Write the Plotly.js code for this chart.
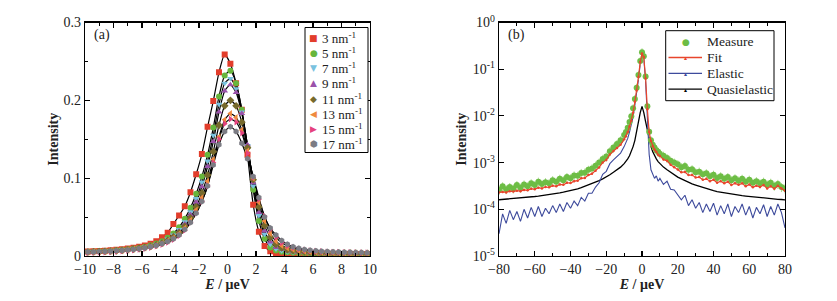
<!DOCTYPE html>
<html><head><meta charset="utf-8">
<script src="https://cdn.plot.ly/plotly-3.0.1.min.js"></script>
<style>html,body{margin:0;padding:0;background:#fff}#c{width:837px;height:301px}</style>
</head><body><div id="c"></div>
<script>
// ---------- panel (a) ----------
const energyA = [-9.8,-9.4,-9.0,-8.6,-8.2,-7.8,-7.4,-7.0,-6.6,-6.2,-5.8,-5.4,-5.0,-4.6,-4.2,-3.8,-3.4,-3.0,-2.6,-2.2,-1.8,-1.4,-1.0,-0.6,-0.2,0.2,0.6,1.0,1.4,1.8,2.2,2.6,3.0,3.4,3.8,4.2,4.6,5.0,5.4,5.8,6.2,6.6,7.0,7.4,7.8,8.2,8.6,9.0,9.4,9.8];
const q3  = [0.0058,0.0061,0.0065,0.0069,0.0074,0.008,0.0087,0.0095,0.0105,0.0118,0.0135,0.0158,0.019,0.024,0.030,0.041,0.052,0.064,0.082,0.105,0.131,0.166,0.199,0.236,0.259,0.247,0.222,0.188,0.13,0.066,0.031,0.013,0.006,0.004,0.0035,0.0032,0.003,0.003,0.0029,0.0029,0.0028,0.0028,0.0028,0.0027,0.0027,0.0027,0.0026,0.0026,0.0026,0.0025];
const q5  = [0.0055,0.0057,0.006,0.0064,0.0068,0.0073,0.0079,0.0086,0.0095,0.0106,0.012,0.0137,0.016,0.019,0.0235,0.029,0.037,0.048,0.062,0.08,0.102,0.13,0.165,0.205,0.232,0.238,0.222,0.188,0.14,0.085,0.045,0.022,0.011,0.007,0.0055,0.0047,0.0042,0.0039,0.0037,0.0035,0.0034,0.0033,0.0032,0.0031,0.0031,0.003,0.003,0.0029,0.0029,0.0029];
const q7  = [0.0053,0.0055,0.0058,0.0061,0.0065,0.007,0.0076,0.0083,0.0091,0.0101,0.0114,0.013,0.0151,0.0178,0.0218,0.027,0.034,0.044,0.057,0.074,0.095,0.122,0.155,0.195,0.222,0.228,0.215,0.185,0.142,0.09,0.052,0.028,0.015,0.009,0.0068,0.0056,0.0049,0.0044,0.0041,0.0038,0.0036,0.0035,0.0034,0.0033,0.0032,0.0032,0.0031,0.0031,0.003,0.003];
const q9  = [0.0052,0.0054,0.0057,0.006,0.0064,0.0069,0.0074,0.0081,0.0089,0.0099,0.0111,0.0126,0.0146,0.0172,0.021,0.026,0.032,0.041,0.053,0.069,0.089,0.115,0.147,0.185,0.212,0.22,0.21,0.183,0.143,0.094,0.056,0.032,0.018,0.011,0.0082,0.0065,0.0055,0.0049,0.0045,0.0042,0.0039,0.0037,0.0036,0.0035,0.0034,0.0033,0.0033,0.0032,0.0032,0.0031];
const q11 = [0.0051,0.0053,0.0056,0.0059,0.0063,0.0067,0.0072,0.0079,0.0087,0.0096,0.0108,0.0123,0.0142,0.0166,0.02,0.0245,0.03,0.038,0.049,0.063,0.081,0.104,0.134,0.168,0.193,0.2,0.193,0.172,0.139,0.098,0.063,0.039,0.024,0.015,0.0105,0.008,0.0066,0.0057,0.0051,0.0047,0.0044,0.0041,0.0039,0.0038,0.0037,0.0036,0.0035,0.0035,0.0034,0.0034];
const q13 = [0.005,0.0052,0.0055,0.0058,0.0062,0.0066,0.0071,0.0078,0.0086,0.0095,0.0106,0.012,0.0138,0.0161,0.0192,0.0233,0.0285,0.036,0.046,0.059,0.075,0.096,0.124,0.153,0.175,0.183,0.178,0.162,0.135,0.1,0.069,0.045,0.029,0.019,0.0135,0.0102,0.0083,0.007,0.0061,0.0055,0.005,0.0047,0.0044,0.0042,0.004,0.0039,0.0038,0.0037,0.0037,0.0036];
const q15 = [0.0045,0.0047,0.0049,0.0052,0.0055,0.0059,0.0064,0.007,0.0077,0.0086,0.0097,0.011,0.0127,0.0148,0.0175,0.021,0.026,0.033,0.043,0.055,0.07,0.09,0.12,0.15,0.17,0.176,0.172,0.158,0.132,0.101,0.073,0.051,0.034,0.024,0.017,0.013,0.0105,0.0088,0.0076,0.0068,0.0062,0.0057,0.0053,0.005,0.0048,0.0046,0.0044,0.0043,0.0042,0.0041];
const q17 = [0.005,0.0052,0.0055,0.0058,0.0062,0.0066,0.0071,0.0077,0.0084,0.0093,0.0104,0.0118,0.0135,0.0157,0.0185,0.022,0.027,0.034,0.043,0.055,0.07,0.09,0.117,0.143,0.16,0.166,0.16,0.145,0.125,0.102,0.075,0.05,0.036,0.027,0.02,0.015,0.012,0.0098,0.0084,0.0074,0.0067,0.0062,0.0058,0.0054,0.0051,0.0049,0.0047,0.0045,0.0044,0.0043];
const seriesA = [q3,q5,q7,q9,q11,q13,q15,q17];
const labelsA = ['3 nm<sup>-1</sup>','5 nm<sup>-1</sup>','7 nm<sup>-1</sup>','9 nm<sup>-1</sup>','11 nm<sup>-1</sup>','13 nm<sup>-1</sup>','15 nm<sup>-1</sup>','17 nm<sup>-1</sup>'];
const yTicksA = [0,0.1,0.2,0.3];
const yTickTextA = ['0','0.1','0.2','0.3'];

// ---------- panel (b) ----------
const energyB = [-80,-78,-76,-74,-72,-70,-68,-66,-64,-62,-60,-58,-56,-54,-52,-50,-48,-46,-44,-42,-40,-38,-36,-34,-32,-30,-28,-26,-24,-22,-20,-18,-16,-14,-12,-10,-9,-8,-7,-6,-5,-4,-3,-2,-1,0,1,2,3,4,5,6,7,8,9,10,12,14,16,18,20,22,24,26,28,30,32,34,36,38,40,42,44,46,48,50,52,54,56,58,60,62,64,66,68,70,72,74,76,78,80];
const measure = [2.6e-4,3.1e-4,2.7e-4,3.0e-4,2.8e-4,3.3e-4,2.9e-4,3.4e-4,3.1e-4,3.6e-4,
  3.3e-4,3.9e-4,3.5e-4,3.8e-4,3.6e-4,4.2e-4,3.9e-4,4.5e-4,4.2e-4,4.9e-4,
  4.6e-4,5.3e-4,5.2e-4,6.0e-4,6.1e-4,7.0e-4,7.5e-4,8.6e-4,1.0e-3,1.2e-3,
  1.35e-3,1.75e-3,2.1e-3,2.5e-3,3.0e-3,
  3.9e-3,4.5e-3,5.6e-3,7.4e-3,9.8e-3,0.0145,0.023,0.04,0.075,0.15,
  0.23,
  0.19,0.07,0.016,4.6e-3,3.0e-3,2.4e-3,2.1e-3,1.85e-3,1.7e-3,1.55e-3,
  1.4e-3,1.25e-3,1.1e-3,1.0e-3,9.2e-4,
  8.0e-4,8.5e-4,7.0e-4,7.2e-4,6.2e-4,6.4e-4,5.6e-4,5.9e-4,5.1e-4,5.5e-4,
  4.7e-4,5.1e-4,4.5e-4,4.9e-4,4.2e-4,4.6e-4,4.1e-4,4.5e-4,3.9e-4,4.3e-4,
  3.7e-4,4.0e-4,3.6e-4,3.9e-4,3.4e-4,3.7e-4,3.2e-4,3.5e-4,3.0e-4,2.8e-4];
const fit = [2.3e-4,2.35e-4,2.3e-4,2.45e-4,2.4e-4,2.5e-4,2.45e-4,2.6e-4,2.55e-4,2.75e-4,
  2.7e-4,2.9e-4,2.8e-4,3.0e-4,2.95e-4,3.2e-4,3.1e-4,3.4e-4,3.35e-4,3.7e-4,
  3.65e-4,4.0e-4,4.1e-4,4.6e-4,4.7e-4,5.4e-4,5.8e-4,6.7e-4,7.9e-4,1.0e-3,
  1.14e-3,1.5e-3,1.77e-3,2.05e-3,2.4e-3,
  3.15e-3,3.65e-3,4.5e-3,5.9e-3,7.9e-3,0.0117,0.02,0.035,0.068,0.142,
  0.216,
  0.182,0.063,0.0138,4.5e-3,2.9e-3,2.25e-3,1.9e-3,1.7e-3,1.47e-3,1.39e-3,
  1.16e-3,1.09e-3,9.0e-4,8.0e-4,7.1e-4,
  6.2e-4,6.3e-4,5.4e-4,5.4e-4,4.8e-4,4.9e-4,4.3e-4,4.5e-4,4.0e-4,4.3e-4,
  3.7e-4,4.0e-4,3.6e-4,3.9e-4,3.3e-4,3.6e-4,3.35e-4,3.6e-4,3.1e-4,3.4e-4,
  2.95e-4,3.2e-4,3.0e-4,3.3e-4,2.8e-4,3.1e-4,2.75e-4,3.2e-4,2.8e-4,2.5e-4];
const elastic = [3.0e-5,8e-5,5e-5,9.5e-5,6e-5,9e-5,5.5e-5,1.0e-4,6.5e-5,1.1e-4,
  7e-5,1.15e-4,7e-5,1.05e-4,8e-5,1.2e-4,8.5e-5,1.3e-4,9e-5,1.4e-4,
  1.05e-4,1.5e-4,1.2e-4,1.8e-4,1.5e-4,2.2e-4,2.2e-4,3.0e-4,3.7e-4,5.6e-4,
  6.5e-4,9.5e-4,1.15e-3,1.35e-3,1.6e-3,
  2.2e-3,2.6e-3,3.3e-3,4.5e-3,6.2e-3,9.5e-3,0.017,0.03,0.06,0.13,
  0.2,
  0.17,0.055,0.009,1.5e-3,7e-4,5.5e-4,4.6e-4,5.2e-4,4.0e-4,4.6e-4,
  3.4e-4,4.0e-4,2.7e-4,2.6e-4,2.1e-4,
  1.6e-4,2.0e-4,1.2e-4,1.6e-4,1.05e-4,1.4e-4,8.5e-5,1.3e-4,9e-5,1.35e-4,
  7.5e-5,1.2e-4,8e-5,1.3e-4,7e-5,1.15e-4,8.5e-5,1.3e-4,7.5e-5,1.15e-4,
  6.5e-5,1.1e-4,8e-5,1.25e-4,7e-5,1.15e-4,7.5e-5,1.3e-4,8.5e-5,4e-5];
const quasi = [1.6e-4,1.62e-4,1.64e-4,1.66e-4,1.68e-4,1.71e-4,1.74e-4,1.77e-4,1.8e-4,1.84e-4,
  1.88e-4,1.92e-4,1.96e-4,2.0e-4,2.06e-4,2.12e-4,2.18e-4,2.25e-4,2.32e-4,2.4e-4,
  2.5e-4,2.6e-4,2.75e-4,2.9e-4,3.1e-4,3.3e-4,3.5e-4,3.8e-4,4.1e-4,4.5e-4,
  4.9e-4,5.5e-4,6.2e-4,7.0e-4,8.0e-4,
  9.5e-4,1.05e-3,1.2e-3,1.4e-3,1.7e-3,2.2e-3,3.0e-3,4.8e-3,7.5e-3,0.0118,
  0.016,
  0.0118,7.5e-3,4.8e-3,3.0e-3,2.2e-3,1.7e-3,1.4e-3,1.2e-3,1.05e-3,9.5e-4,
  8.0e-4,7.0e-4,6.2e-4,5.5e-4,4.9e-4,
  4.5e-4,4.1e-4,3.8e-4,3.5e-4,3.3e-4,3.1e-4,2.9e-4,2.75e-4,2.6e-4,2.5e-4,
  2.4e-4,2.32e-4,2.25e-4,2.18e-4,2.12e-4,2.06e-4,2.0e-4,1.96e-4,1.92e-4,1.88e-4,
  1.84e-4,1.8e-4,1.77e-4,1.74e-4,1.71e-4,1.68e-4,1.66e-4,1.64e-4,1.62e-4,1.6e-4];
const labelsB = ['Measure','Fit','Elastic','Quasielastic'];
const yTicksB = [1e-5,1e-4,1e-3,1e-2,1e-1,1];
const yTickTextB = ['10<sup>-5</sup>','10<sup>-4</sup>','10<sup>-3</sup>','10<sup>-2</sup>','10<sup>-1</sup>','10<sup>0</sup>'];

// ---------- styling ----------
const W = 837, H = 301;
const FONT = 'Liberation Serif, Times New Roman, serif';
const colorsA = ['#e23d2b','#67b63c','#79c2df','#9a52aa','#776a2c','#ef8a3e','#e5427e','#7c7c84'];
const symbolsA = ['square','circle','triangle-down','triangle-up','diamond','triangle-left','triangle-right','hexagon'];
const glyphsA = ['■','●','▼','▲','◆','◀','▶','⬢'];
const colorsB = ['#6dbd45','#e8452c','#3d4a9c','#000000'];

const traces = [];
seriesA.forEach((s) => {
  traces.push({x: energyA, y: s, type:'scatter', mode:'lines', line:{color:'#000', width:1.2, shape:'spline', smoothing:0.6},
    showlegend:false, hoverinfo:'skip', xaxis:'x', yaxis:'y'});
});
seriesA.forEach((s, i) => {
  traces.push({x: energyA, y: s, type:'scatter', mode:'markers', name: labelsA[i], showlegend:false,
    marker:{symbol: symbolsA[i], color: colorsA[i], size: 6, line:{width:0}}, xaxis:'x', yaxis:'y'});
});
traces.push({x: energyB, y: quasi, type:'scatter', mode:'lines', name: labelsB[3], showlegend:false,
  line:{color:colorsB[3], width:1.3}, xaxis:'x2', yaxis:'y2'});
traces.push({x: energyB, y: elastic, type:'scatter', mode:'lines', name: labelsB[2], showlegend:false,
  line:{color:colorsB[2], width:1.1}, xaxis:'x2', yaxis:'y2'});
traces.push({x: energyB, y: measure, type:'scatter', mode:'markers', name: labelsB[0], showlegend:false,
  marker:{symbol:'circle', color:colorsB[0], size:6},
  error_y:{type:'percent', value:22, color:'#a9d98c', thickness:1, width:0},
  xaxis:'x2', yaxis:'y2'});
traces.push({x: energyB, y: fit, type:'scatter', mode:'lines+markers', name: labelsB[1], showlegend:false,
  line:{color:colorsB[1], width:1.2}, marker:{color:colorsB[1], size:2.5}, xaxis:'x2', yaxis:'y2'});

const axBase = {showline:true, linecolor:'#000', linewidth:1.3, mirror:'ticks', ticks:'inside',
  ticklen:5, tickwidth:1.1, tickcolor:'#000', showgrid:false, zeroline:false,
  tickfont:{family:FONT, size:14, color:'#222'}};
const minorBase = {ticks:'inside', ticklen:3, tickwidth:1, tickcolor:'#000', showgrid:false};
const yDom = [0.1495, 0.9252];
const px = (v) => v / W, py = (v) => 1 - v / H;

// hand-built legends (layout only: box, sample glyphs/lines, labels)
const shapes = [];
const annotations = [
  {text:'(a)', xref:'paper', yref:'paper', x:px(92), y:py(35), xanchor:'left', yanchor:'middle', showarrow:false,
    font:{family:FONT, size:14, color:'#222'}},
  {text:'(b)', xref:'paper', yref:'paper', x:px(506), y:py(35), xanchor:'left', yanchor:'middle', showarrow:false,
    font:{family:FONT, size:14, color:'#222'}}
];
// legend (a)
shapes.push({type:'rect', xref:'paper', yref:'paper', x0:px(305), x1:px(368), y0:py(27.5), y1:py(152.5),
  line:{color:'#000', width:1}, fillcolor:'#fff', layer:'above'});
labelsA.forEach((lab, i) => {
  const yc = 37.7 + i * 15.2;
  annotations.push({text: glyphsA[i], xref:'paper', yref:'paper', x:px(313.5), y:py(yc), xanchor:'center', yanchor:'middle',
    showarrow:false, font:{family:'DejaVu Sans', size:9, color:colorsA[i]}});
  annotations.push({text: lab, xref:'paper', yref:'paper', x:px(319.5), y:py(yc), xanchor:'left', yanchor:'middle',
    showarrow:false, font:{family:FONT, size:13, color:'#222'}});
});
// legend (b)
shapes.push({type:'rect', xref:'paper', yref:'paper', x0:px(665.7), x1:px(774), y0:py(30.7), y1:py(100.7),
  line:{color:'#000', width:1}, fillcolor:'#fff', layer:'above'});
labelsB.forEach((lab, i) => {
  const yc = 41.7 + i * 15.8;
  if (i === 0) {
    annotations.push({text:'●', xref:'paper', yref:'paper', x:px(685.5), y:py(yc), xanchor:'center', yanchor:'middle',
      showarrow:false, font:{family:'DejaVu Sans', size:9, color:colorsB[0]}});
  } else {
    shapes.push({type:'line', xref:'paper', yref:'paper', x0:px(668.5), x1:px(702), y0:py(yc), y1:py(yc),
      line:{color:colorsB[i], width:1.3}, layer:'above'});
    annotations.push({text:'▴', xref:'paper', yref:'paper', x:px(685.5), y:py(yc), xanchor:'center', yanchor:'middle',
      showarrow:false, font:{family:'DejaVu Sans', size:6, color:colorsB[i]}});
  }
  annotations.push({text: lab, xref:'paper', yref:'paper', x:px(705), y:py(yc), xanchor:'left', yanchor:'middle',
    showarrow:false, font:{family:FONT, size:13.5, color:'#222'}});
});

const layout = {
  width:W, height:H, margin:{l:0,r:0,t:0,b:0},
  paper_bgcolor:'#fff', plot_bgcolor:'#fff', showlegend:false,
  font:{family:FONT, color:'#222'},
  xaxis: Object.assign({}, axBase, {domain:[0.1016,0.4421], range:[-10,10], dtick:2, tick0:0,
    minor:Object.assign({dtick:1}, minorBase), anchor:'y',
    title:{text:'<b><i>E</i> / μeV</b>', font:{family:FONT, size:14, color:'#222'}, standoff:2}}),
  yaxis: Object.assign({}, axBase, {domain:yDom, range:[0,0.3], tickmode:'array', tickvals:yTicksA, ticktext:yTickTextA,
    minor:Object.assign({dtick:0.05, tick0:0}, minorBase), anchor:'x',
    title:{text:'<b>Intensity</b>', font:{family:FONT, size:14, color:'#222'}, standoff:1}}),
  xaxis2: Object.assign({}, axBase, {domain:[0.5962,0.9379], range:[-80,80], dtick:20, tick0:0,
    minor:Object.assign({dtick:10}, minorBase), anchor:'y2',
    title:{text:'<b><i>E</i> / μeV</b>', font:{family:FONT, size:14, color:'#222'}, standoff:2}}),
  yaxis2: Object.assign({}, axBase, {domain:yDom, type:'log', range:[-5,0], tickmode:'array',
    tickvals:yTicksB, ticktext:yTickTextB, anchor:'x2',
    title:{text:'<b>Intensity</b>', font:{family:FONT, size:14, color:'#222'}, standoff:2}}),
  shapes: shapes,
  annotations: annotations
};

Plotly.newPlot('c', traces, layout, {staticPlot:true, displayModeBar:false});
</script>
</body></html>
